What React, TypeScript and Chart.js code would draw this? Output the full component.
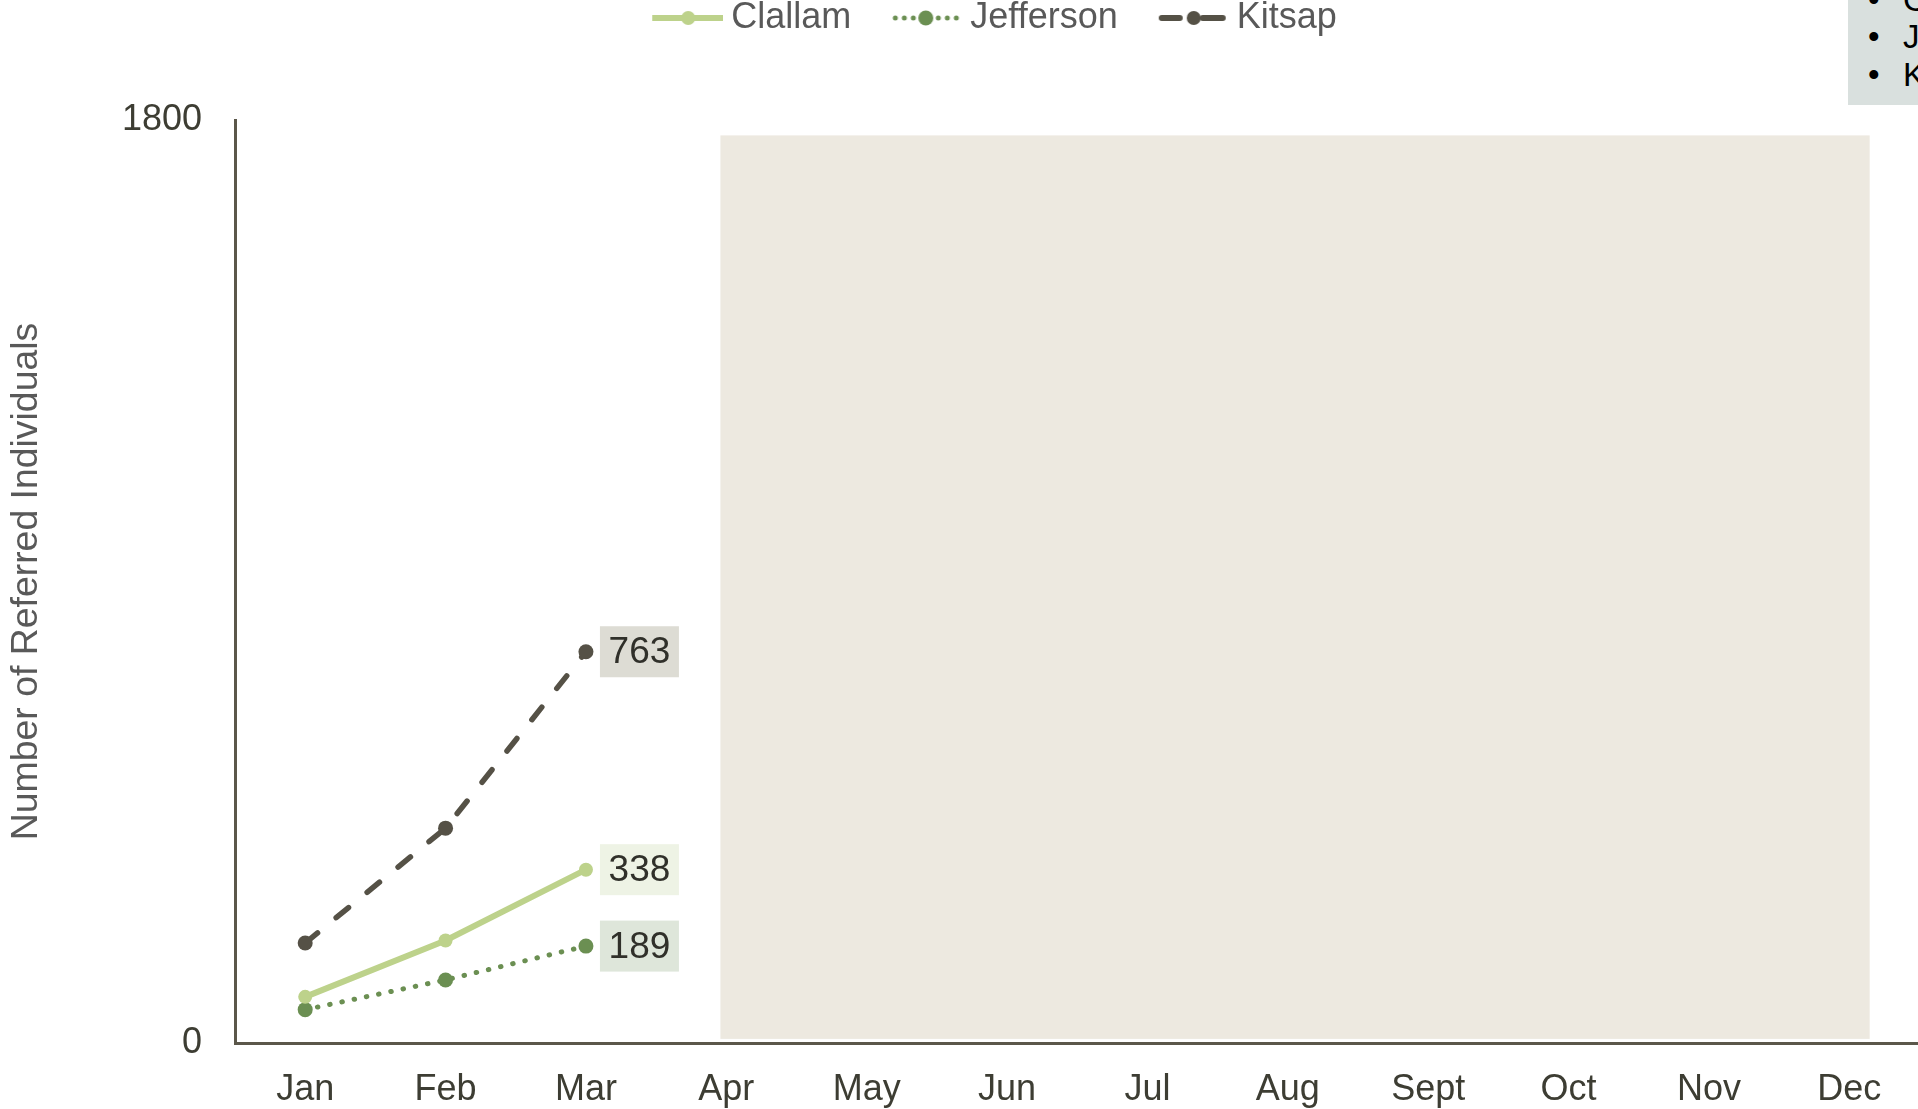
import React, { useEffect, useRef } from "react";
import { Chart, registerables } from "chart.js";

Chart.register(...registerables);

const months = ["Jan", "Feb", "Mar", "Apr", "May", "Jun", "Jul", "Aug", "Sept", "Oct", "Nov", "Dec"];
const clallam = [90, 200, 338, null, null, null, null, null, null, null, null, null];
const jefferson = [65, 123, 189, null, null, null, null, null, null, null, null, null];
const kitsap = [195, 419, 763, null, null, null, null, null, null, null, null, null];
const seriesNames = ["Clallam", "Jefferson", "Kitsap"];
const seriesColors = ["#bdd28b", "#6b8f52", "#555146"];
const labelBoxColors = ["#eef3e5", "#dee6da", "#dddcd4"];
const yMin = 0;
const yMax = 1800;
// shaded "not yet reported" region, in category-index / value units
const shadeFrom = 2.958;
const shadeTo = 11.145;
const shadeBottom = 8;
const shadeTop = 1770;
const noteItems = ["Clallam", "Jefferson", "Kitsap"];

const FONT = "'Liberation Sans', Arial, sans-serif";
const VIEW_W = 1918;
const VIEW_H = 1109;
const EXTRA_W = 9; // canvas overhang clipped on the right

function makeMarker(kind: string, color: string): HTMLCanvasElement {
  const c = document.createElement("canvas");
  c.width = 111;
  c.height = 18;
  const ctx = c.getContext("2d")!;
  const cy = 9;
  ctx.strokeStyle = color;
  ctx.fillStyle = color;
  if (kind === "solid") {
    ctx.lineWidth = 6;
    ctx.beginPath();
    ctx.moveTo(40, cy);
    ctx.lineTo(111, cy);
    ctx.stroke();
    ctx.beginPath();
    ctx.arc(76, cy, 7, 0, Math.PI * 2);
    ctx.fill();
  } else if (kind === "dotted") {
    const xs = [44, 53, 62, 87, 96, 105];
    for (const x of xs) {
      ctx.beginPath();
      ctx.arc(x, cy, 2.5, 0, Math.PI * 2);
      ctx.fill();
    }
    ctx.beginPath();
    ctx.arc(74.5, cy, 7.5, 0, Math.PI * 2);
    ctx.fill();
  } else {
    ctx.lineWidth = 6;
    ctx.lineCap = "round";
    ctx.beginPath();
    ctx.moveTo(44, cy);
    ctx.lineTo(62, cy);
    ctx.moveTo(85, cy);
    ctx.lineTo(105, cy);
    ctx.stroke();
    ctx.beginPath();
    ctx.arc(76, cy, 7, 0, Math.PI * 2);
    ctx.fill();
  }
  return c;
}

export default function App() {
  const ref = useRef<HTMLCanvasElement | null>(null);

  useEffect(() => {
    if (!ref.current) return;
    const markers = [
      makeMarker("solid", seriesColors[0]),
      makeMarker("dotted", seriesColors[1]),
      makeMarker("dashed", seriesColors[2]),
    ];

    const shadePlugin = {
      id: "shade",
      beforeDatasetsDraw(chart: any) {
        const { ctx, scales } = chart;
        const x0 = scales.x.getPixelForValue(shadeFrom);
        const x1 = scales.x.getPixelForValue(shadeTo);
        const y0 = scales.y.getPixelForValue(shadeTop);
        const y1 = scales.y.getPixelForValue(shadeBottom);
        ctx.save();
        ctx.fillStyle = "#ede9e0";
        ctx.fillRect(x0, y0, x1 - x0, y1 - y0);
        ctx.restore();
      },
    };

    const labelPlugin = {
      id: "lastLabels",
      afterDatasetsDraw(chart: any) {
        const { ctx } = chart;
        chart.data.datasets.forEach((ds: any, i: number) => {
          let idx = -1;
          ds.data.forEach((v: any, j: number) => {
            if (v !== null && v !== undefined) idx = j;
          });
          if (idx < 0) return;
          const pt = chart.getDatasetMeta(i).data[idx];
          const w = 79;
          const h = 51;
          const bx = pt.x + 14;
          const by = pt.y - h / 2;
          ctx.save();
          ctx.fillStyle = labelBoxColors[i];
          ctx.fillRect(bx, by, w, h);
          ctx.fillStyle = "#30302a";
          ctx.font = `37px ${FONT}`;
          ctx.textAlign = "center";
          ctx.textBaseline = "middle";
          ctx.fillText(String(ds.data[idx]), bx + w / 2, pt.y + 1.5);
          ctx.restore();
        });
      },
    };

    const legendShift = {
      id: "legendShift",
      afterUpdate(chart: any) {
        const lg = chart.legend;
        if (!lg) return;
        const dx = 20.5 - EXTRA_W / 2;
        lg.left += dx;
        lg.right += dx;
        lg.top = -10;
      },
    };

    const chart = new Chart(ref.current, {
      type: "line",
      data: {
        labels: months,
        datasets: [
          {
            label: seriesNames[0],
            data: clallam,
            borderColor: seriesColors[0],
            backgroundColor: seriesColors[0],
            borderWidth: 6,
            pointRadius: 7,
            pointBorderWidth: 0,
            pointBackgroundColor: seriesColors[0],
            tension: 0,
          },
          {
            label: seriesNames[1],
            data: jefferson,
            borderColor: seriesColors[1],
            backgroundColor: seriesColors[1],
            borderWidth: 5,
            borderDash: [0.5, 12],
            borderCapStyle: "round",
            pointRadius: 7.5,
            pointBorderWidth: 0,
            pointBackgroundColor: seriesColors[1],
            tension: 0,
          },
          {
            label: seriesNames[2],
            data: kitsap,
            borderColor: seriesColors[2],
            backgroundColor: seriesColors[2],
            borderWidth: 5.5,
            borderDash: [16, 24],
            borderCapStyle: "round",
            pointRadius: 7.5,
            pointBorderWidth: 0,
            pointBackgroundColor: seriesColors[2],
            tension: 0,
          },
        ] as any,
      },
      options: {
        animation: false,
        responsive: false,
        events: [],
        layout: { padding: { top: 64, right: 0, bottom: 0, left: 0 } },
        plugins: {
          tooltip: { enabled: false },
          legend: {
            display: true,
            position: "top",
            labels: {
              usePointStyle: true,
              pointStyleWidth: 91,
              padding: 10,
              color: "#595959",
              font: { family: FONT, size: 36 },
              generateLabels: (chart: any) =>
                chart.data.datasets.map((ds: any, i: number) => ({
                  text: ds.label,
                  pointStyle: markers[i],
                  fillStyle: seriesColors[i],
                  strokeStyle: seriesColors[i],
                  lineWidth: 0,
                  hidden: false,
                  datasetIndex: i,
                  fontColor: "#595959",
                })),
            },
          },
        },
        scales: {
          x: {
            type: "category",
            offset: true,
            grid: { display: false, drawTicks: false },
            border: { display: true, color: "#5b574a", width: 3 },
            ticks: {
              color: "#3d3d33",
              padding: 25,
              font: { family: FONT, size: 36 },
              maxRotation: 0,
              autoSkip: false,
            },
            afterFit: (scale: any) => {
              scale.height = 66;
              scale.paddingLeft = 0;
              scale.paddingRight = 0;
            },
          },
          y: {
            min: yMin,
            max: yMax,
            grid: { display: false, drawTicks: false },
            border: { display: true, color: "#5b574a", width: 3 },
            ticks: {
              stepSize: yMax - yMin,
              color: "#3d3d33",
              padding: 33,
              font: { family: FONT, size: 36 },
              callback: (v: any) => String(v),
            },
            title: {
              display: true,
              text: "Number of Referred Individuals",
              color: "#595959",
              font: { family: FONT, size: 37.4 },
              padding: { top: 4, bottom: 4 },
            },
            afterFit: (scale: any) => {
              scale.width = 235;
              scale.paddingBottom = 0;
            },
          },
        },
      } as any,
      plugins: [shadePlugin, labelPlugin, legendShift],
    });
    return () => chart.destroy();
  }, []);

  return (
    <div
      style={{
        position: "fixed",
        left: 0,
        top: 0,
        width: VIEW_W,
        height: VIEW_H,
        overflow: "hidden",
        background: "#ffffff",
      }}
    >
      <canvas
        ref={ref}
        width={VIEW_W + EXTRA_W}
        height={VIEW_H}
        style={{ display: "block" }}
      />
      <div
        style={{
          position: "absolute",
          left: 1848,
          top: -19.4,
          width: 260,
          paddingBottom: 12,
          background: "#d9e0de",
          fontFamily: FONT,
          fontSize: 33,
          lineHeight: "37.5px",
          color: "#000000",
          whiteSpace: "nowrap",
        }}
      >
        {noteItems.map((t) => (
          <div key={t} style={{ paddingLeft: 20 }}>
            <span style={{ display: "inline-block", width: 35 }}>•</span>
            {t}
          </div>
        ))}
      </div>
    </div>
  );
}
